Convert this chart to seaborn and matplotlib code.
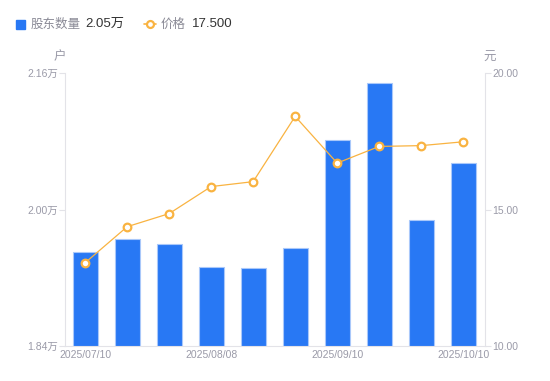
import numpy as np
import pandas as pd
import matplotlib
matplotlib.use("Agg")
import matplotlib.pyplot as plt
from matplotlib.lines import Line2D
from matplotlib.patches import Rectangle
import seaborn as sns

# data
dates = ["2025/07/10", "2025/07/18", "2025/07/31", "2025/08/08", "2025/08/20",
         "2025/08/29", "2025/09/10", "2025/09/19", "2025/09/30", "2025/10/10"]
holders = [1.950, 1.965, 1.959, 1.933, 1.931, 1.955, 2.081, 2.148, 1.988, 2.054]  # 万户
price = [13.05, 14.37, 14.85, 15.84, 16.02, 18.41, 16.70, 17.31, 17.34, 17.48]
left_ticks = [1.84, 2.00, 2.16]
left_labels = ["1.84万", "2.00万", "2.16万"]
right_ticks = [10, 15, 20]
right_labels = ["10.00", "15.00", "20.00"]
shown_ticks = [0, 3, 6, 9]

df = pd.DataFrame({"date": dates, "holders": holders, "price": price, "pos": range(len(dates))})

sns.set_style("white")
plt.rcParams["font.family"] = ["Liberation Sans", "Noto Sans CJK SC", "DejaVu Sans"]

BLUE = "#2878F4"
ORANGE = "#F9B341"
GRID = "#E3E3E8"
TXT = "#9A9AA8"

fig = plt.figure(figsize=(5.5, 3.81), dpi=100)
ax = fig.add_axes([65 / 550, 35 / 381, 420 / 550, 273 / 381])

sns.barplot(data=df, x="date", y="holders", color=BLUE, width=0.6, ax=ax,
            edgecolor="#A9C8FA", linewidth=0.8, saturation=1)
ax.set_ylim(1.84, 2.16)
ax.set_xlim(-0.48, 9.52)
ax.set_yticks(left_ticks)
ax.set_yticklabels(left_labels)
ax.set_xticks(shown_ticks)
ax.set_xticklabels([dates[i] for i in shown_ticks])
ax.set_xlabel("")
ax.set_ylabel("")

ax2 = ax.twinx()
sns.lineplot(data=df, x="pos", y="price", ax=ax2, color=ORANGE, linewidth=0.9,
             marker="o", markersize=5.5, markerfacecolor="white",
             markeredgecolor=ORANGE, markeredgewidth=1.6)
ax2.set_ylim(10, 20)
ax2.set_yticks(right_ticks)
ax2.set_yticklabels(right_labels)
ax2.set_xlabel("")
ax2.set_ylabel("")
ax2.set_xlim(-0.48, 9.52)

for a in (ax, ax2):
    for s in a.spines.values():
        s.set_visible(False)
ax.spines["left"].set_visible(True)
ax.spines["left"].set_color(GRID)
ax.spines["bottom"].set_visible(True)
ax.spines["bottom"].set_color(GRID)
ax2.spines["right"].set_visible(True)
ax2.spines["right"].set_color(GRID)

ax.tick_params(axis="y", length=4, color=GRID, labelsize=7.5, labelcolor=TXT, pad=1)
ax.tick_params(axis="x", length=0, labelsize=7.5, labelcolor=TXT, pad=3)
ax2.tick_params(axis="y", length=4, color=GRID, labelsize=7.5, labelcolor=TXT, pad=1)

# axis units
cjk = ["Noto Sans CJK SC", "DejaVu Sans"]
fig.text(60 / 550, 1 - 57 / 381, "户", ha="center", va="center", fontsize=9, color=TXT, family=cjk)
fig.text(490 / 550, 1 - 57 / 381, "元", ha="center", va="center", fontsize=9, color=TXT, family=cjk)

# legend row
ly = 1 - 24 / 381
fig.patches.append(Rectangle((16 / 550, ly - 4.5 / 381), 9 / 550, 9 / 381,
                             transform=fig.transFigure, color=BLUE, figure=fig))
fig.text(31 / 550, ly, "股东数量", ha="left", va="center", fontsize=9, color="#8A8A96", family=cjk)
fig.text(85 / 550, ly, "2.05万", ha="left", va="center", fontsize=9.5, color="#333333")
fig.lines.append(Line2D([144 / 550, 156 / 550], [ly, ly], transform=fig.transFigure,
                        color=ORANGE, linewidth=1.2, figure=fig))
fig.lines.append(Line2D([150 / 550], [ly], transform=fig.transFigure, color=ORANGE,
                        marker="o", markersize=5, markerfacecolor="white",
                        markeredgewidth=1.6, linestyle="none", figure=fig))
fig.text(161 / 550, ly, "价格", ha="left", va="center", fontsize=9, color="#8A8A96", family=cjk)
fig.text(192 / 550, ly, "17.500", ha="left", va="center", fontsize=9.5, color="#333333")

fig.savefig("out.png", dpi=100)
